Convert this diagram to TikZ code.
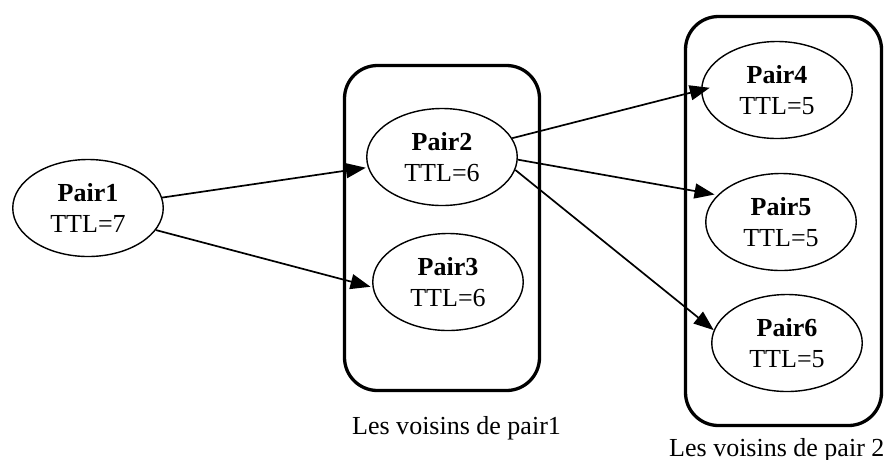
\documentclass[tikz,border=0pt]{standalone}
\usepackage{fontspec}
\setmainfont{Liberation Serif}
\usetikzlibrary{shapes.geometric,arrows.meta}
\begin{document}
\begin{tikzpicture}[x=1pt,y=-1pt,
  peer/.style={ellipse,draw,line width=1.4pt,minimum width=150.5pt,minimum height=97pt,
    inner sep=0pt,align=center,font=\fontsize{26}{31}\selectfont},
  group/.style={draw,line width=3.3pt,rounded corners=33pt,inner sep=0pt},
  link/.style={line width=1.7pt,-{Triangle[length=20pt,width=15pt]}},
  caption/.style={font=\fontsize{26}{31}\selectfont,inner sep=0pt,anchor=base west}]
\useasboundingbox (0,0) rectangle (888,459);

% neighbour groups
\node[group,minimum width=195pt,minimum height=325pt] (g1) at (442,228) {};
\node[group,minimum width=196pt,minimum height=409pt] (g2) at (783.5,221) {};

% peers
\node[peer] (p1) at (88,208)  {\textbf{Pair1}\\TTL=7};
\node[peer] (p2) at (442,157) {\textbf{Pair2}\\TTL=6};
\node[peer] (p3) at (448,282) {\textbf{Pair3}\\TTL=6};
\node[peer] (p4) at (777,90)  {\textbf{Pair4}\\TTL=5};
\node[peer] (p5) at (781,222) {\textbf{Pair5}\\TTL=5};
\node[peer] (p6) at (787,343) {\textbf{Pair6}\\TTL=5};

% query forwarding
\draw[link,shorten >=2pt] (p1.8) -- (p2.188);
\draw[link,shorten >=2pt] (p1.-18) -- (p3.184);
\draw[link,shorten >=-9pt] (p2.15) -- (p4.west);
\draw[link,shorten >=3pt] (p2.-2) -- (p5.157);
\draw[link] (p2.-10) -- (p6.170);

% captions
\node[caption] (c1) at (352,434) {Les voisins de pair1};
\node[caption] (c2) at (669,456) {Les voisins de pair 2};
\end{tikzpicture}
\end{document}
